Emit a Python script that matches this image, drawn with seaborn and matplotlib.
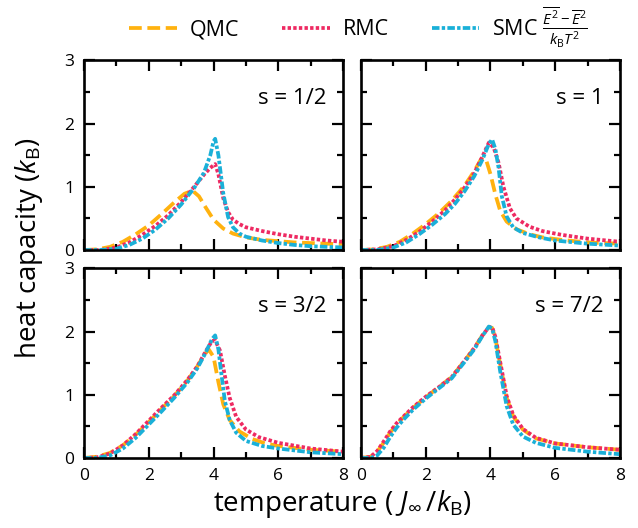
import numpy as np
import pandas as pd
import matplotlib
matplotlib.use("Agg")
import matplotlib.pyplot as plt
from matplotlib.ticker import MultipleLocator
import seaborn as sns

# --- data (temperature in J_inf/k_B, heat capacity in k_B) ---
panels = ["s = 1/2", "s = 1", "s = 3/2", "s = 7/2"]

# s = 1/2
qmc_t_12 = [0, 0.4, 0.8, 1.2, 1.6, 2.0, 2.4, 2.8, 3.1, 3.35, 3.55, 3.75, 4.0, 4.3, 4.6, 5.0, 5.5, 6.0, 6.5, 7.0, 7.5, 8.0]
qmc_c_12 = [0, 0.01, 0.05, 0.13, 0.25, 0.39, 0.57, 0.76, 0.89, 0.94, 0.85, 0.68, 0.48, 0.34, 0.26, 0.2, 0.16, 0.14, 0.12, 0.11, 0.10, 0.09]
rmc_t_12 = [0, 0.5, 1.0, 1.4, 1.8, 2.2, 2.6, 3.0, 3.4, 3.7, 3.9, 4.05, 4.15, 4.3, 4.45, 4.6, 4.8, 5.0, 5.5, 6.0, 6.5, 7.0, 7.5, 8.0]
rmc_c_12 = [0, 0.0, 0.04, 0.12, 0.24, 0.38, 0.55, 0.76, 1.0, 1.19, 1.3, 1.36, 1.2, 0.82, 0.6, 0.48, 0.41, 0.36, 0.30, 0.25, 0.21, 0.18, 0.15, 0.13]
smc_t_12 = [0, 0.5, 1.0, 1.4, 1.8, 2.2, 2.6, 3.0, 3.4, 3.7, 3.9, 4.0, 4.05, 4.15, 4.3, 4.45, 4.6, 4.8, 5.0, 5.5, 6.0, 6.5, 7.0, 7.5, 8.0]
smc_c_12 = [0, 0, 0.02, 0.08, 0.18, 0.32, 0.5, 0.72, 0.98, 1.22, 1.5, 1.72, 1.76, 1.5, 0.9, 0.52, 0.36, 0.26, 0.21, 0.15, 0.11, 0.08, 0.06, 0.05, 0.04]

# s = 1
qmc_t_1 = [0, 0.4, 0.8, 1.2, 1.6, 2.0, 2.4, 2.8, 3.2, 3.5, 3.7, 3.85, 4.0, 4.15, 4.3, 4.5, 4.8, 5.2, 5.6, 6.2, 7.0, 8.0]
qmc_c_1 = [0, 0.01, 0.05, 0.13, 0.26, 0.41, 0.58, 0.78, 1.02, 1.25, 1.43, 1.45, 1.2, 0.88, 0.62, 0.45, 0.33, 0.25, 0.2, 0.16, 0.12, 0.1]
rmc_t_1 = [0, 0.5, 1.0, 1.4, 1.8, 2.2, 2.6, 2.9, 3.2, 3.5, 3.75, 3.95, 4.1, 4.25, 4.4, 4.6, 4.8, 5.2, 5.6, 6.2, 7.0, 8.0]
rmc_c_1 = [0, 0.01, 0.06, 0.16, 0.29, 0.45, 0.63, 0.8, 0.99, 1.22, 1.48, 1.7, 1.62, 1.38, 1.0, 0.66, 0.5, 0.37, 0.3, 0.24, 0.18, 0.13]
smc_t_1 = [0, 0.5, 1.0, 1.4, 1.8, 2.2, 2.6, 2.9, 3.2, 3.5, 3.75, 3.95, 4.05, 4.15, 4.25, 4.35, 4.5, 4.7, 5.0, 5.5, 6.0, 7.0, 8.0]
smc_c_1 = [0, 0, 0.04, 0.12, 0.25, 0.4, 0.57, 0.73, 0.93, 1.17, 1.43, 1.68, 1.75, 1.6, 1.3, 0.85, 0.53, 0.36, 0.27, 0.2, 0.15, 0.1, 0.07]

# s = 3/2
qmc_t_32 = [0, 0.4, 0.8, 1.2, 1.6, 2.0, 2.4, 2.8, 3.2, 3.5, 3.7, 3.85, 4.0, 4.15, 4.3, 4.5, 4.8, 5.2, 5.6, 6.0, 7.0, 8.0]
qmc_c_32 = [0, 0.02, 0.08, 0.2, 0.37, 0.57, 0.78, 0.99, 1.23, 1.45, 1.62, 1.72, 1.6, 1.2, 0.85, 0.6, 0.42, 0.3, 0.23, 0.19, 0.13, 0.1]
rmc_t_32 = [0, 0.4, 0.8, 1.2, 1.6, 2.0, 2.4, 2.8, 3.2, 3.5, 3.75, 3.95, 4.05, 4.2, 4.35, 4.5, 4.7, 5.0, 5.4, 6.0, 7.0, 8.0]
rmc_c_32 = [0, 0.01, 0.07, 0.2, 0.38, 0.59, 0.8, 1.0, 1.24, 1.45, 1.68, 1.85, 1.86, 1.7, 1.3, 0.95, 0.65, 0.45, 0.33, 0.24, 0.15, 0.1]
smc_t_32 = [0, 0.4, 0.8, 1.2, 1.6, 2.0, 2.4, 2.8, 3.2, 3.5, 3.75, 3.95, 4.05, 4.15, 4.25, 4.35, 4.5, 4.7, 5.0, 5.5, 6.0, 7.0, 8.0]
smc_c_32 = [0, 0, 0.04, 0.15, 0.32, 0.53, 0.74, 0.96, 1.2, 1.42, 1.66, 1.88, 1.94, 1.72, 1.3, 0.9, 0.6, 0.4, 0.27, 0.19, 0.15, 0.09, 0.06]

# s = 7/2
t_72 = [0, 0.3, 0.5, 0.7, 0.9, 1.1, 1.3, 1.6, 2.0, 2.4, 2.8, 3.2, 3.5, 3.75, 3.95, 4.05, 4.15, 4.3, 4.5, 4.7, 5.0, 5.4, 6.0, 7.0, 8.0]
qmc_c_72 = [0, 0.02, 0.1, 0.24, 0.4, 0.53, 0.64, 0.79, 0.96, 1.12, 1.28, 1.54, 1.74, 1.94, 2.07, 2.06, 1.9, 1.48, 0.95, 0.66, 0.45, 0.31, 0.23, 0.17, 0.13]
rmc_c_72 = [0, 0.02, 0.11, 0.26, 0.42, 0.55, 0.65, 0.8, 0.97, 1.12, 1.28, 1.54, 1.74, 1.94, 2.07, 2.07, 1.92, 1.52, 0.98, 0.68, 0.46, 0.32, 0.23, 0.17, 0.13]
smc_c_72 = [0, 0, 0.04, 0.16, 0.33, 0.48, 0.6, 0.76, 0.94, 1.1, 1.26, 1.52, 1.72, 1.93, 2.08, 2.05, 1.85, 1.37, 0.82, 0.53, 0.34, 0.24, 0.16, 0.1, 0.06]

series = [
    [(qmc_t_12, qmc_c_12), (rmc_t_12, rmc_c_12), (smc_t_12, smc_c_12)],
    [(qmc_t_1, qmc_c_1), (rmc_t_1, rmc_c_1), (smc_t_1, smc_c_1)],
    [(qmc_t_32, qmc_c_32), (rmc_t_32, rmc_c_32), (smc_t_32, smc_c_32)],
    [(t_72, qmc_c_72), (t_72, rmc_c_72), (t_72, smc_c_72)],
]

methods = ["QMC", "RMC", r"SMC $\frac{\overline{E^2}-\overline{E}^2}{k_\mathrm{B}T^2}$"]
colors = {methods[0]: "#ffb20f", methods[1]: "#ee2a62", methods[2]: "#1ab0d8"}
dashes = {methods[0]: (3.4, 1.5), methods[1]: (0.9, 0.6), methods[2]: (2.0, 0.6, 0.9, 0.6)}

sns.set_theme(style="ticks")
plt.rcParams["font.family"] = ["Open Sans", "DejaVu Sans"]
plt.rcParams["mathtext.fontset"] = "custom"
plt.rcParams["mathtext.rm"] = "Open Sans"
plt.rcParams["mathtext.it"] = "Open Sans:italic"
plt.rcParams["mathtext.bf"] = "Open Sans:bold"
for key in ["text.color", "axes.labelcolor", "xtick.color", "ytick.color", "axes.edgecolor"]:
    plt.rcParams[key] = "black"

fig = plt.figure(figsize=(6.38, 5.28), dpi=100)
W, H = 0.406, 0.359
positions = [(0.1317, 0.5265), (0.5658, 0.5265), (0.1317, 0.1326), (0.5658, 0.1326)]

axes = []
for i, (label, data) in enumerate(zip(panels, series)):
    ax = fig.add_axes([positions[i][0], positions[i][1], W, H])
    axes.append(ax)
    frames = []
    for m, (t, c) in zip(methods, data):
        frames.append(pd.DataFrame({"T": t, "C": c, "method": m}))
    df = pd.concat(frames, ignore_index=True)
    sns.lineplot(data=df, x="T", y="C", hue="method", style="method",
                 hue_order=methods, style_order=methods,
                 palette=colors, dashes=dashes, linewidth=2.7,
                 legend=(i == 0), ax=ax, sort=False)
    ax.set_xlim(0, 8)
    ax.set_ylim(0, 3)
    ax.xaxis.set_major_locator(MultipleLocator(2))
    ax.xaxis.set_minor_locator(MultipleLocator(1))
    ax.yaxis.set_major_locator(MultipleLocator(1))
    ax.yaxis.set_minor_locator(MultipleLocator(0.5))
    ax.tick_params(which="both", direction="in", top=True, right=True,
                   width=1.6, labelsize=12.5, pad=7)
    ax.tick_params(which="major", length=8)
    ax.tick_params(which="minor", length=4.5)
    for sp in ax.spines.values():
        sp.set_linewidth(1.9)
    ax.set_xlabel("")
    ax.set_ylabel("")
    if i < 2:
        ax.tick_params(labelbottom=False)
    if i % 2 == 1:
        ax.tick_params(labelleft=False)
    ax.text(0.935, 0.80, label, transform=ax.transAxes, ha="right", va="center",
            fontsize=16)

handles, labels = axes[0].get_legend_handles_labels()
axes[0].get_legend().remove()
fig.legend(handles, labels, loc="center", bbox_to_anchor=(0.562, 0.948), ncol=3,
           frameon=False, fontsize=15.5, handlelength=2.2, columnspacing=2.0,
           handletextpad=0.6)

fig.text(0.045, 0.53, r"heat capacity ($k_\mathrm{B}$)", rotation=90,
         ha="center", va="center", fontsize=20)
fig.text(0.537, 0.046, r"temperature ( $J_\infty\,/k_\mathrm{B}$)",
         ha="center", va="center", fontsize=20)

fig.savefig("out.png", dpi=100)
